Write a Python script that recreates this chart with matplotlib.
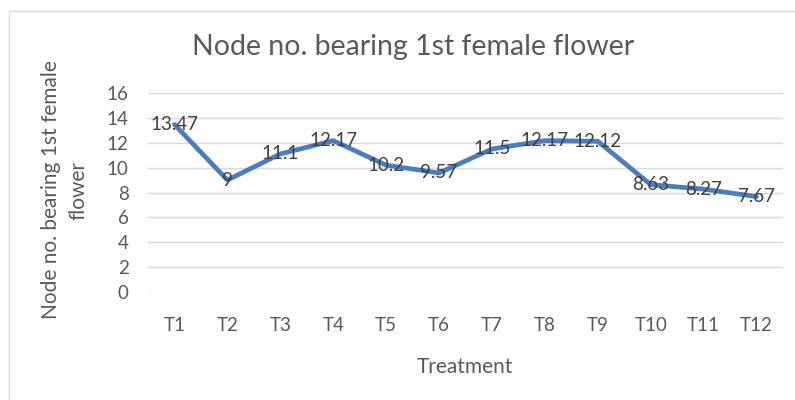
import matplotlib
matplotlib.use("Agg")
import matplotlib.pyplot as plt
from matplotlib.patches import Rectangle

categories = ["T1", "T2", "T3", "T4", "T5", "T6", "T7", "T8", "T9", "T10", "T11", "T12"]
values = [13.47, 9, 11.1, 12.17, 10.2, 9.57, 11.5, 12.17, 12.12, 8.63, 8.27, 7.67]
value_labels = ["13.47", "9", "11.1", "12.17", "10.2", "9.57", "11.5", "12.17", "12.12", "8.63", "8.27", "7.67"]
yticks = [0, 2, 4, 6, 8, 10, 12, 14, 16]

plt.rcParams['font.family'] = ['Lato', 'DejaVu Sans']

W, H = 795, 400
fig = plt.figure(figsize=(W / 100, H / 100), dpi=100)
fig.patch.set_facecolor('white')

# chart border
fig.patches.append(Rectangle((9 / W, -0.05), 1.2, (400 - 11) / H + 0.05, transform=fig.transFigure,
                             fill=False, edgecolor='#D9D9D9', linewidth=1.0))

ax = fig.add_axes([148 / W, (400 - 292) / H, (783 - 148) / W, (292 - 93) / H])
x = list(range(len(categories)))
ax.plot(x, values, color='#4A7DC0', linewidth=3.4, solid_capstyle='round', solid_joinstyle='round', zorder=3)
for xi, v, lab in zip(x, values, value_labels):
    ax.text(xi, v, lab, ha='center', va='center', fontsize=13.5, color='#404040', zorder=4)

ax.set_xlim(-0.5, len(categories) - 0.5)
ax.set_ylim(0, 16)
ax.set_yticks(yticks)
ax.set_yticklabels([str(t) for t in yticks])
ax.set_xticks(x)
ax.set_xticklabels(categories)
ax.tick_params(axis='both', length=0, labelsize=13.5, labelcolor='#595959')
ax.tick_params(axis='x', pad=18)
ax.tick_params(axis='y', pad=14)
ax.grid(axis='y', color='#D9D9D9', linewidth=1.0)
ax.set_axisbelow(True)
for s in ax.spines.values():
    s.set_visible(False)

fig.text(413 / W, 1 - 47 / H, "Node no. bearing 1st female flower", ha='center', va='center',
         fontsize=20.5, color='#595959')
fig.text(465 / W, 1 - 367 / H, "Treatment", ha='center', va='center', fontsize=15, color='#595959')
fig.text(65 / W, 1 - 190 / H, "Node no. bearing 1st female\nflower", ha='center', va='center',
         rotation=90, multialignment='center', fontsize=15, color='#595959', linespacing=1.45)

fig.savefig("out.png", dpi=100, facecolor='white')
